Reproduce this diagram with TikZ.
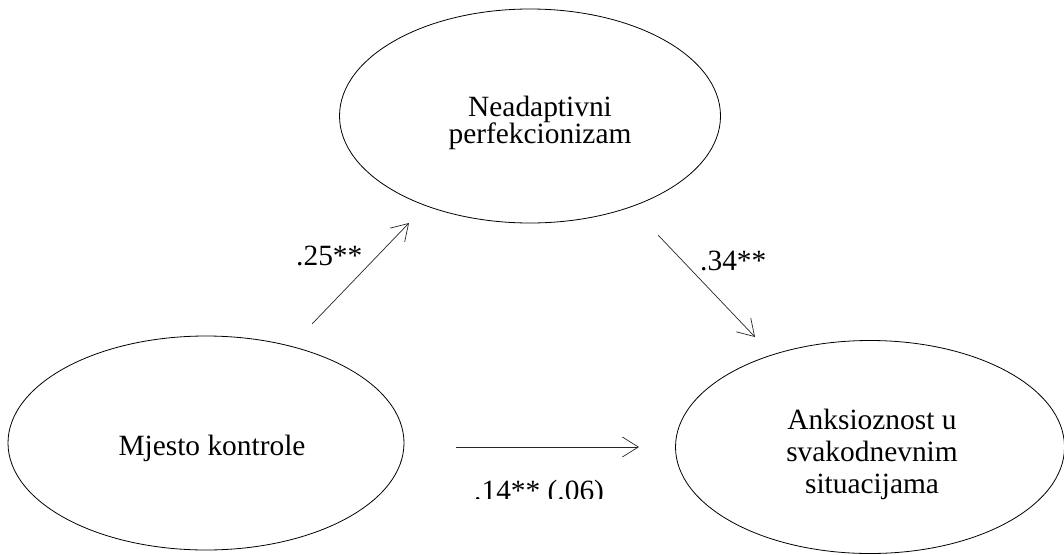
\documentclass[tikz,border=0pt]{standalone}
\usepackage{fontspec}
\setmainfont{Liberation Serif}
\usetikzlibrary{shapes.geometric,arrows.meta}
\begin{document}
\begin{tikzpicture}[x=1pt,y=-1pt,
  latent/.style={draw=black, line width=0.8pt, ellipse, inner sep=0pt},
  lbl/.style={font=\fontsize{29.4}{27.5}\selectfont, inner sep=0pt, anchor=base, align=center},
  coef/.style={font=\fontsize{29.4}{27.5}\selectfont, inner sep=0pt, anchor=base west},
  path/.style={draw=black!85, line width=0.7pt, -{Straight Barb[length=16pt,width=20pt]}}]
\useasboundingbox (0,0) rectangle (1064,554);
% ellipses
\node[latent, minimum width=381pt, minimum height=214pt] (neap) at (530,116) {};
\node[latent, minimum width=396pt, minimum height=214pt] (mk) at (206,443) {};
\node[latent, minimum width=389pt, minimum height=213pt] (anx) at (870,447) {};
% texts
\node[lbl] (t1a) at (540,116) {Neadaptivni};
\node[lbl] (t1b) at (540,143) {perfekcionizam};
\node[lbl] (t2) at (212,455) {Mjesto kontrole};
\node[lbl] (t3a) at (872,429) {Anksioznost u};
\node[lbl] (t3b) at (872,461) {svakodnevnim};
\node[lbl] (t3c) at (872,493) {situacijama};
% connectors
\coordinate (a1s) at (312,324);
\coordinate (a1e) at (409,223);
\coordinate (a2s) at (658,235);
\coordinate (a2e) at (755,337);
\coordinate (a3s) at (456,447);
\coordinate (a3e) at (639,447);
\draw[path] (a1s) -- (a1e);
\draw[path] (a2s) -- (a2e);
\draw[path] (a3s) -- (a3e);
% coefficients
\node[coef] (c1) at (296,265) {.25**};
\node[coef] (c2) at (700,270) {.34**};
\begin{scope}
\clip (440,460) rectangle (640,498);
\node[coef] (c3) at (474,500) {.14** (.06)};
\end{scope}
\end{tikzpicture}
\end{document}
